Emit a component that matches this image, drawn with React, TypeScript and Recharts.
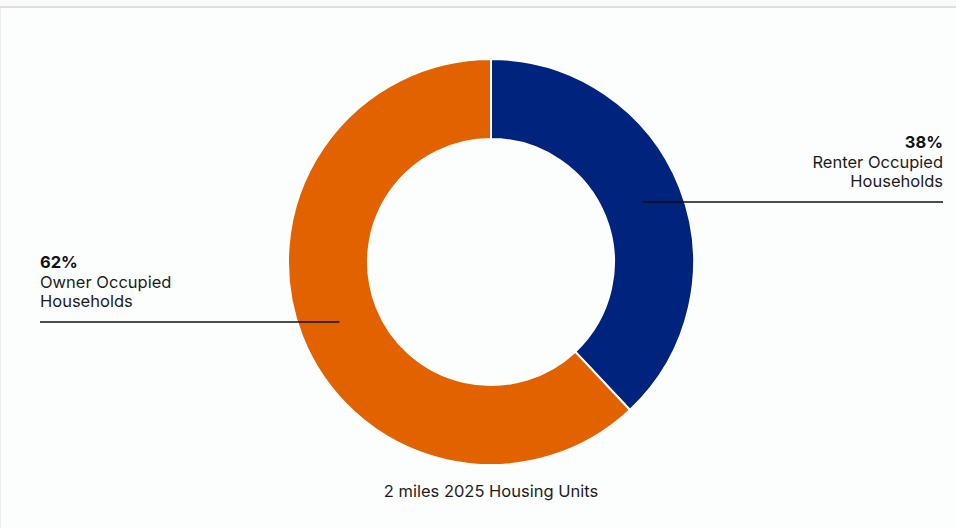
import { PieChart, Pie, Cell } from 'recharts'

const NAMES = ['Renter Occupied Households', 'Owner Occupied Households']
const SHARES = [38, 62]
const COLORS = ['#00237e', '#e26200']
const TITLE = '2 miles 2025 Housing Units'

const W = 956
const H = 528
const RAD = Math.PI / 180
const FONT = 'Inter, "Noto Sans", sans-serif'
const FS = 16.5

const data = NAMES.map((name, i) => ({ name, value: SHARES[i] }))

// rótulo com linha horizontal saindo do meio do anel até a borda
function SliceLabel(props: any) {
  const { cx, cy, midAngle, innerRadius, outerRadius, index } = props
  const r = (innerRadius + outerRadius) / 2
  const x0 = cx + r * Math.cos(-midAngle * RAD)
  const y0 = cy + r * Math.sin(-midAngle * RAD)
  const right = x0 > cx
  const xEnd = right ? 943 : 40
  const anchor = right ? 'end' : 'start'
  const words = NAMES[index].split(' ')
  const line1 = words.slice(0, 2).join(' ')
  const line2 = words.slice(2).join(' ')
  return (
    <g>
      <line x1={x0} y1={y0} x2={xEnd} y2={y0} stroke="#111" strokeWidth={1.5} />
      <text x={xEnd} y={y0 - 54} textAnchor={anchor} fontFamily={FONT} fontSize={FS} fontWeight={700} fill="#111">
        {SHARES[index]}%
      </text>
      <text x={xEnd} y={y0 - 34} textAnchor={anchor} fontFamily={FONT} fontSize={FS} fill="#1c1c1c">
        {line1}
      </text>
      <text x={xEnd} y={y0 - 15} textAnchor={anchor} fontFamily={FONT} fontSize={FS} fill="#1c1c1c">
        {line2}
      </text>
    </g>
  )
}

export default function App() {
  return (
    <div style={{ position: 'absolute', left: 0, top: 0, width: W, height: H, background: '#fcfdfd', overflow: 'hidden' }}>
      <div style={{ position: 'absolute', left: 0, right: 0, top: 0, height: 6, background: '#fafafa' }} />
      <div style={{ position: 'absolute', left: 0, right: 0, top: 6, height: 2, background: '#dedede' }} />
      <div style={{ position: 'absolute', left: 0, top: 8, bottom: 0, width: 1, background: '#ececec' }} />
      <PieChart width={W} height={H} margin={{ top: 0, right: 0, bottom: 0, left: 0 }}>
        <Pie
          data={data}
          dataKey="value"
          nameKey="name"
          cx={491}
          cy={262}
          innerRadius={123}
          outerRadius={203}
          startAngle={90}
          endAngle={-270}
          stroke="#ffffff"
          strokeWidth={2}
          label={SliceLabel}
          labelLine={false}
          isAnimationActive={false}
        >
          {data.map((d, i) => (
            <Cell key={d.name} fill={COLORS[i]} />
          ))}
        </Pie>
        <text x={491} y={497} textAnchor="middle" fontFamily={FONT} fontSize={FS} fill="#1c1c1c">
          {TITLE}
        </text>
      </PieChart>
    </div>
  )
}
